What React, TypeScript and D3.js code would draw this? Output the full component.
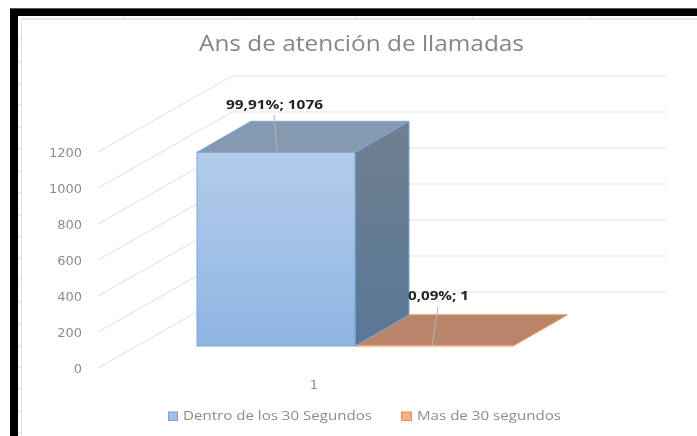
import React from "react";
import * as d3 from "d3";

const title = "Ans de atención de llamadas";
const yTicks = [0, 200, 400, 600, 800, 1000, 1200];
const category = "1";
const seriesNames = ["Dentro de los 30 Segundos", "Mas de 30 segundos"];
const seriesValues = [1076, 1];
const seriesLabels = ["99,91%; 1076", "0,09%; 1"];
const rowMarks = [40, 62, 84, 105, 127, 149, 171, 193, 215, 237, 258, 280, 302, 324, 346, 367, 389, 411, 433];
const colMarks = [123, 240, 356, 473, 590];

const W = 697, H = 436;
// projected value axis (front-left edge of the wall)
const y = d3.scaleLinear().domain([0, 1200]).range([368, 152]);
const gridDX = 134, gridDY = -76, gridRight = 666;
// the bars stand on the floor, raised by this amount on screen
const barBase = 346, barDX = 54, barDY = -31;
const barH = (v: number) => y(0) - y(v);
const barX = d3.scaleBand().domain(["0", "1"]).range([197, 513]);
const font = "'Open Sans', 'DejaVu Sans', sans-serif";
const tickFont = "'DejaVu Sans', sans-serif";
const poly = (p: number[][]) => (d3.line()(p as [number, number][]) as string) + "Z";

function Bar({ i }: { i: number }) {
  const v = seriesValues[i];
  const x0 = barX(String(i)) as number, x1 = x0 + barX.bandwidth();
  const top = barBase - barH(v);
  const blue = i === 0;
  const edge = blue ? "#7aa7d9" : "#ee9a62";
  return (
    <g strokeWidth={1} stroke={edge} strokeLinejoin="round">
      <path d={poly([[x1, barBase], [x1 + barDX, barBase + barDY], [x1 + barDX, top + barDY], [x1, top]])} fill={blue ? "url(#side)" : "#b98469"} />
      <path d={poly([[x0, top], [x0 + barDX, top + barDY], [x1 + barDX, top + barDY], [x1, top]])} fill={blue ? "#8599b1" : "#b98469"} />
      {blue && <rect x={x0} y={top} width={x1 - x0} height={barBase - top} fill="url(#front)" />}
      {!blue && <line x1={x0} x2={x1} y1={barBase} y2={barBase} stroke="#f4b38a" strokeWidth={1.5} />}
    </g>
  );
}

export default function App() {
  return (
    <svg width={W} height={H} viewBox={`0 0 ${W} ${H}`} style={{ position: "absolute", left: 0, top: 0, display: "block", background: "#fff" }}>
      <defs>
        <linearGradient id="front" x1="0" y1="0" x2="0" y2="1">
          <stop offset="0" stopColor="#b3cdea" />
          <stop offset="1" stopColor="#8fb5e3" />
        </linearGradient>
        <linearGradient id="side" x1="0" y1="0" x2="0" y2="1">
          <stop offset="0" stopColor="#70808f" />
          <stop offset="1" stopColor="#587797" />
        </linearGradient>
        <filter id="soft" x="-5%" y="-20%" width="110%" height="140%">
          <feGaussianBlur stdDeviation="0.5" />
        </filter>
      </defs>

      {/* screenshot frame */}
      <rect x={10} y={8} width={W - 10} height={8} fill="#000" />
      <rect x={10} y={8} width={8} height={H - 8} fill="#000" />
      <line x1={10} x2={W} y1={8.5} y2={8.5} stroke="#555" />
      <line x1={21.5} x2={21.5} y1={19} y2={H} stroke="#e2e2e2" />
      <line x1={21} x2={W} y1={19} y2={19} stroke="#e2e2e2" strokeWidth={1.5} />
      {rowMarks.map((m) => <line key={m} x1={18} x2={21} y1={m} y2={m} stroke="#d8d8d8" />)}
      {colMarks.map((m) => <line key={m} x1={m} x2={m} y1={16} y2={19} stroke="#d8d8d8" />)}

      {/* gridlines */}
      <g fill="none" stroke="#e4e4e4" strokeWidth={1.2}>
        {yTicks.map((t) => (
          <path key={t} d={d3.line()([[98, y(t)], [98 + gridDX, y(t) + gridDY], [gridRight, y(t) + gridDY]]) as string} />
        ))}
      </g>

      <Bar i={1} />
      <Bar i={0} />

      {/* leaders */}
      <g stroke="#b5b5b5" strokeWidth={1}>
        <line x1={274} y1={115} x2={277} y2={151} />
        <line x1={438} y1={307} x2={432} y2={346} />
      </g>

      <g filter="url(#soft)" fontFamily={font}>
        <text x={199} y={51} fontSize={21.5} fill="#858585" textLength={325} lengthAdjust="spacingAndGlyphs">{title}</text>
        {yTicks.map((t) => (
          <text key={t} x={82} y={y(t) + 5} fontSize={13} fontFamily={tickFont} textAnchor="end" fill="#8c8c8c">{t}</text>
        ))}
        <text x={314} y={389} fontSize={13} fontFamily={tickFont} textAnchor="middle" fill="#8c8c8c">{category}</text>
        <text x={226} y={109} fontSize={12.5} fontWeight={700} fill="#222" textLength={97} lengthAdjust="spacingAndGlyphs">{seriesLabels[0]}</text>
        <text x={408} y={300} fontSize={12.5} fontWeight={700} fill="#222" textLength={61} lengthAdjust="spacingAndGlyphs">{seriesLabels[1]}</text>
        <text x={183} y={420} fontSize={12.5} fill="#8c8c8c" textLength={189} lengthAdjust="spacingAndGlyphs">{seriesNames[0]}</text>
        <text x={417} y={420} fontSize={12.5} fill="#8c8c8c" textLength={144} lengthAdjust="spacingAndGlyphs">{seriesNames[1]}</text>
      </g>

      {/* legend keys */}
      <rect x={168.5} y={412} width={9} height={8.5} fill="#9fc0e6" stroke="#6fa0d6" />
      <rect x={401.5} y={412} width={10} height={8.5} fill="#f4b08c" stroke="#ed8b4e" />
    </svg>
  );
}
